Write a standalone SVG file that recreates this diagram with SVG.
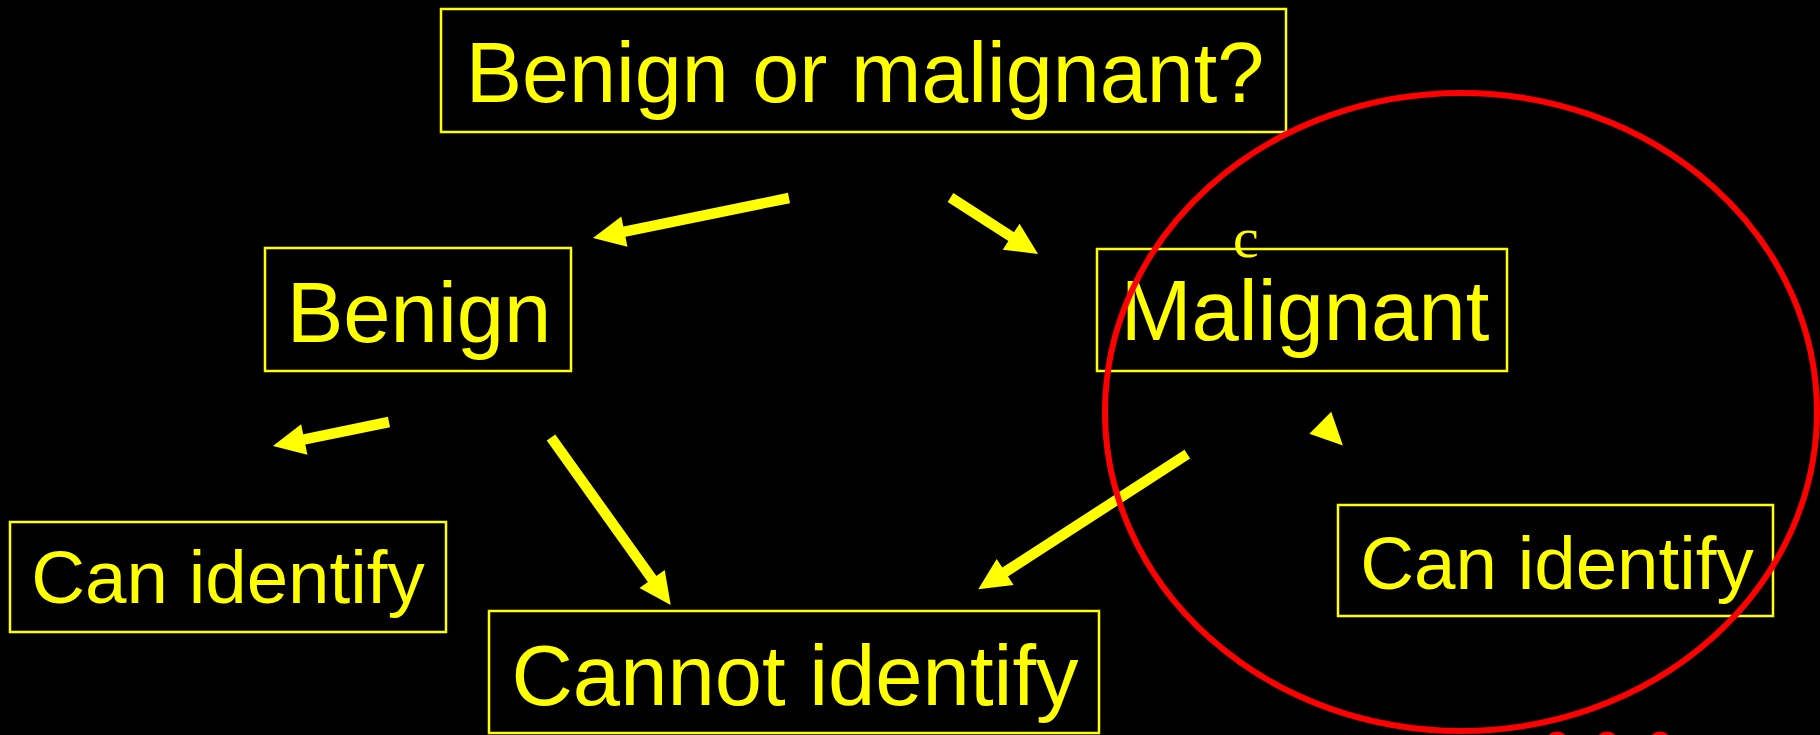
<svg xmlns="http://www.w3.org/2000/svg" width="1820" height="735" viewBox="0 0 1820 735">
  <style>
    .box { fill: none; stroke: #FFFF00; stroke-width: 2.5; }
    .label { fill: #FFFF00; font-family: "Liberation Sans", Arial, sans-serif; text-anchor: middle; }
    .big { font-size: 85px; }
    .small { font-size: 74.5px; }
    .arrow { fill: none; stroke: #FFFF00; stroke-width: 10.5; stroke-linecap: butt; marker-end: url(#head); }
    .headonly { fill: none; stroke: none; marker-end: url(#head); }
    .ring { fill: none; stroke: #FF0000; stroke-width: 6; }
    .dot { fill: none; stroke: #FF0000; stroke-width: 5; }
  </style>
  <defs>
    <marker id="head" markerUnits="userSpaceOnUse" markerWidth="40" markerHeight="40" refX="0" refY="0" orient="auto" viewBox="-2 -20 40 40" overflow="visible">
      <path d="M-1,-15.5 L31,0 L-1,15.5 Z" fill="#FFFF00"/>
    </marker>
  </defs>

  <rect width="1820" height="735" fill="#000000"/>

  <!-- question at the top -->
  <g id="question">
    <rect class="box" x="441" y="9" width="845" height="123"/>
    <text class="label" x="865" y="102" font-size="84.5px">Benign or malignant?</text>
  </g>

  <g id="benign">
    <rect class="box" x="265" y="248" width="306" height="123"/>
    <text class="label big" x="419" y="342">Benign</text>
  </g>

  <g id="malignant">
    <rect class="box" x="1097" y="249" width="410" height="122"/>
    <text class="label big" x="1305" y="340">Malignant</text>
    <text x="1233" y="257" fill="#FFFF00" font-family="'Liberation Serif', 'Times New Roman', serif" font-size="58px">c</text>
  </g>

  <g id="can-identify-left">
    <rect class="box" x="10" y="522" width="436" height="110"/>
    <text class="label small" x="228" y="603">Can identify</text>
  </g>

  <g id="cannot-identify">
    <rect class="box" x="489" y="611" width="610" height="122"/>
    <text class="label big" x="795" y="705">Cannot identify</text>
  </g>

  <g id="can-identify-right">
    <rect class="box" x="1338" y="505" width="435" height="111"/>
    <text class="label small" x="1557" y="589">Can identify</text>
  </g>

  <!-- arrows between the boxes -->
  <g id="connectors">
    <path class="arrow" d="M789,198 L623.4,231.8"/>
    <path class="arrow" d="M950.5,197.5 L1012,237.2"/>
    <path class="arrow" d="M389,422 L303.3,439.7"/>
    <path class="arrow" d="M551,437.5 L652.7,579.8"/>
    <path class="arrow" d="M1187.3,454.2 L1004.3,572.5"/>
    <path class="headonly" d="M1319.6,422.1 L1321,423.5"/>
  </g>

  <!-- red ring round the malignant branch -->
  <g id="highlight">
    <ellipse class="ring" cx="1461" cy="412" rx="356" ry="319"/>
    <circle class="dot" cx="1557" cy="743" r="9"/>
    <circle class="dot" cx="1607" cy="743" r="9"/>
    <circle class="dot" cx="1660" cy="743" r="9"/>
  </g>
</svg>
